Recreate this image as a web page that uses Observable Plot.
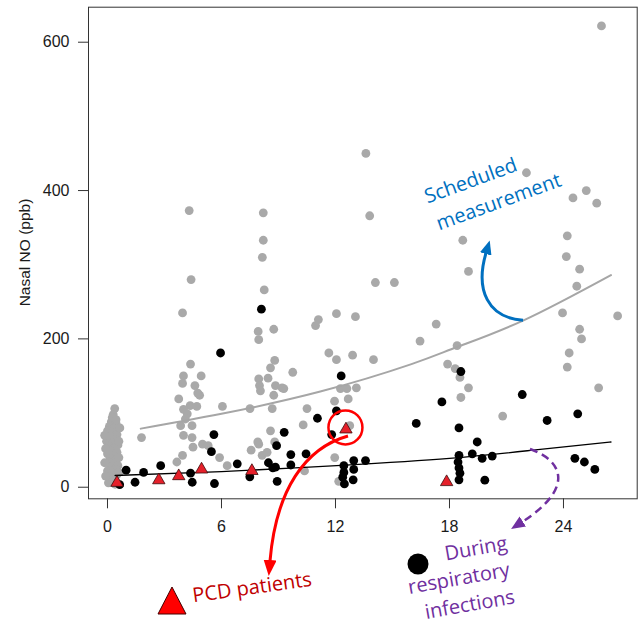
<!DOCTYPE html>
<html>
<head>
<meta charset="utf-8">
<script src="https://cdn.jsdelivr.net/npm/d3@7"></script>
<script src="https://cdn.jsdelivr.net/npm/@observablehq/plot@0.6"></script>
<style>
  body { margin: 0; background: #fff; }
  svg { display: block; }
</style>
</head>
<body>
<div id="chart"></div>
<script>
// Nasal NO (ppb) against age; each entry is [age, nasal NO]
const scheduled = [
  [26.0, 622], [13.6, 450], [13.8, 366], [4.3, 373], [8.2, 370], [8.2, 333], [8.15, 310],
  [22.05, 424], [24.5, 390], [25.2, 400], [25.75, 383], [18.7, 333], [24.2, 339], [24.15, 311],
  [14.1, 276], [15.1, 276], [19.0, 291], [24.85, 294], [24.7, 271], [12.05, 234], [13.05, 230],
  [11.1, 226], [10.95, 218], [17.3, 220], [16.45, 197], [18.4, 191], [23.95, 235], [26.85, 231],
  [24.85, 213], [24.95, 200], [24.3, 181], [24.2, 162],
  [4.4, 280], [8.25, 266], [3.95, 235], [7.93, 210], [8.75, 213], [7.96, 199], [4.37, 166],
  [4.0, 150], [4.93, 150], [8.8, 171], [8.58, 161], [8.45, 147], [7.96, 146], [9.75, 155],
  [11.65, 181], [12.05, 172], [12.9, 178], [14.0, 172], [17.9, 166], [18.3, 160], [18.55, 148],
  [19.0, 134], [18.6, 121], [20.8, 96], [25.85, 134],
  [3.95, 140], [4.6, 137], [3.75, 119], [4.85, 124], [4.35, 110], [4.7, 109], [4.2, 99],
  [3.85, 83], [4.45, 83], [4.0, 70], [4.45, 67], [4.5, 54], [5.0, 58], [5.3, 56], [3.95, 43],
  [3.65, 34], [4.1, 92], [4.0, 105], [4.75, 127],
  [6.05, 109], [7.5, 106], [8.67, 106], [8.58, 76], [7.96, 58], [8.14, 43], [6.3, 29], [5.9, 40],
  [8.4, 47], [7.56, 50], [7.91, 61], [8.8, 61], [8.0, 137], [8.05, 130], [8.84, 137], [9.19, 134],
  [8.75, 124], [10.3, 84], [10.5, 106], [10.37, 22], [9.28, 133], [12.26, 133], [12.6, 133],
  [13.1, 134], [11.95, 116], [12.67, 119], [12.75, 83], [11.96, 40], [12.17, 8], [1.79, 67],
  [0.38, 106], [0.3, 98], [0.2, 88], [0.45, 86], [0.1, 82], [0.35, 79], [0.0, 76], [0.25, 73],
  [0.5, 71], [0.15, 68], [0.4, 64], [-0.05, 62], [0.3, 60], [0.55, 57], [0.1, 55], [0.35, 52],
  [0.2, 49], [0.5, 47], [0.0, 45], [0.3, 42], [0.15, 39], [0.45, 37], [0.05, 34], [0.3, 31],
  [0.55, 29], [0.15, 27], [0.4, 24], [0.0, 22], [0.25, 19], [0.5, 17], [0.1, 14], [0.35, 12],
  [0.2, 9], [0.05, 6], [0.4, 4], [0.6, 40], [0.6, 62], [0.25, 94], [0.45, 91],
  [-0.15, 70], [-0.1, 52], [-0.15, 33], [-0.1, 15], [0.65, 80], [0.6, 20]
];

const infections = [
  [8.1, 240], [5.95, 181], [12.3, 150], [12.05, 103], [11.05, 93], [11.8, 71], [9.3, 74],
  [8.9, 56], [9.65, 44], [10.45, 45], [9.65, 30], [8.84, 27], [8.93, 8], [8.47, 33], [8.7, 26],
  [7.49, 14], [6.83, 31.5], [5.6, 71], [5.47, 48], [4.37, 19], [4.46, 6.7], [5.63, 5], [2.8, 29],
  [1.9, 20], [1.45, 6.7], [0.98, 23], [0.64, 3.5],
  [12.44, 29], [12.96, 36], [13.58, 36], [12.96, 24], [12.44, 20], [12.93, 10], [12.47, 4.5],
  [12.38, 13.5],
  [17.6, 115], [16.25, 86], [18.5, 80], [18.6, 156], [21.83, 125], [23.14, 90], [24.75, 99],
  [19.46, 61], [18.5, 43], [19.2, 45], [19.72, 39], [20.25, 42], [18.45, 34], [18.5, 26],
  [18.55, 19], [18.5, 10], [19.86, 9.5], [24.6, 39], [25.1, 34], [25.65, 24]
];

const pcd = [
  [0.5, 6], [2.7, 9.5], [3.75, 15], [4.95, 24], [7.6, 22], [12.55, 78], [17.85, 7]
];

// fitted trends
const scheduledFit = [[1.75, 79], [6, 99], [11.2, 129], [16, 166], [18.4, 189], [21.9, 225], [26.5, 286]];
const infectionFit = [[0.4, 15.8], [6, 21], [12.3, 29.5], [18, 39], [22.4, 50], [26.5, 61]];

const xTicks = [0, 6, 12, 18, 24];
const yTicks = [0, 200, 400, 600];

const axisFont = "'Liberation Sans', Arial, sans-serif";
const noteFont = "'Open Sans', 'Noto Sans', sans-serif";

const chart = Plot.plot({
  width: 644,
  height: 629,
  marginLeft: 88,
  marginRight: 7.3,
  marginTop: 6.7,
  marginBottom: 130.7,
  style: { fontFamily: axisFont, background: "white", color: "#1a1a1a" },
  x: { domain: [-1, 27.88] },
  y: { domain: [-15.6, 647.2] },
  marks: [
    Plot.axisX({ ticks: xTicks, tickSize: 10, tickPadding: 12, fontSize: 16, label: null, stroke: "#333" }),
    Plot.axisY({ ticks: yTicks, tickSize: 10, tickPadding: 9, fontSize: 16, label: null, stroke: "#333" }),
    Plot.dot(scheduled, { x: d => d[0], y: d => d[1], r: 4.4, fill: "#a9a9a9" }),
    Plot.line(scheduledFit, { x: d => d[0], y: d => d[1], stroke: "#a6a6a6", strokeWidth: 2, curve: "natural" }),
    Plot.dot(infections, { x: d => d[0], y: d => d[1], r: 4.4, fill: "black" }),
    Plot.line(infectionFit, { x: d => d[0], y: d => d[1], stroke: "black", strokeWidth: 1.3, curve: "natural" }),
    Plot.dot(pcd, { x: d => d[0], y: d => d[1], symbol: "triangle", r: 4.6, fill: "#e5202a", stroke: "#3b0b0b", strokeWidth: 0.8 }),
    Plot.frame({ stroke: "#333", strokeWidth: 1 })
  ]
});

document.getElementById("chart").appendChild(chart);

// annotations drawn on top of the plot
const sx = chart.scale("x").apply, sy = chart.scale("y").apply;
const svg = d3.select(chart);
const defs = svg.append("defs");
function head(id, color, len, wid) {
  defs.append("marker")
    .attr("id", id).attr("markerUnits", "userSpaceOnUse")
    .attr("markerWidth", len).attr("markerHeight", wid)
    .attr("refX", 1).attr("refY", wid / 2).attr("orient", "auto")
    .append("path").attr("d", `M0,0L${len},${wid / 2}L0,${wid}Z`).attr("fill", color);
}
head("hBlue", "#0070c0", 14, 12);
head("hRed", "#ff0000", 16, 13);
head("hPurple", "#7030a0", 14, 12);

const g = svg.append("g");

// y-axis title
g.append("text")
  .attr("transform", `translate(30,${(6.7 + 498.3) / 2}) rotate(-90)`)
  .attr("text-anchor", "middle").attr("font-family", axisFont).attr("font-size", 15.5)
  .attr("fill", "#1a1a1a").text("Nasal NO (ppb)");

// scheduled measurement callout
g.append("path")
  .attr("d", `M${sx(21.9)},${sy(224.5)} C488,318 475,290 486,253`)
  .attr("fill", "none").attr("stroke", "#0070c0").attr("stroke-width", 3)
  .attr("marker-end", "url(#hBlue)");
g.append("text").attr("transform", "translate(473,187) rotate(-20)")
  .attr("text-anchor", "middle").attr("font-family", noteFont).attr("font-size", 20)
  .attr("fill", "#0070c0").text("Scheduled");
g.append("text").attr("transform", "translate(501,208) rotate(-20)")
  .attr("text-anchor", "middle").attr("font-family", noteFont).attr("font-size", 20)
  .attr("fill", "#0070c0").text("measurement");

// PCD patients callout
const hl = pcd[5];
g.append("circle").attr("cx", sx(hl[0])).attr("cy", sy(hl[1]) - 1.5).attr("r", 17)
  .attr("fill", "none").attr("stroke", "#ff0000").attr("stroke-width", 2.5);
g.append("path")
  .attr("d", `M348,436 C305,448 276,490 270,561`)
  .attr("fill", "none").attr("stroke", "#ff0000").attr("stroke-width", 3)
  .attr("marker-end", "url(#hRed)");
g.append("path").attr("d", "M158,614L186,614L172,587Z")
  .attr("fill", "#ff0000").attr("stroke", "#400").attr("stroke-width", 1);
g.append("text").attr("transform", "translate(253,594) rotate(-8)")
  .attr("text-anchor", "middle").attr("font-family", noteFont).attr("font-size", 20)
  .attr("fill", "#c00000").text("PCD patients");

// respiratory infection callout
g.append("path")
  .attr("d", `M530,449 C566,462 572,490 522,522`)
  .attr("fill", "none").attr("stroke", "#7030a0").attr("stroke-width", 2.5)
  .attr("stroke-dasharray", "8,5")
  .attr("marker-end", "url(#hPurple)");
g.append("circle").attr("cx", 418).attr("cy", 564).attr("r", 10.5).attr("fill", "black");
[["During", 477, 555], ["respiratory", 460, 585], ["infections", 471, 611]].forEach(([t, x, y]) => {
  g.append("text").attr("transform", `translate(${x},${y}) rotate(-10)`)
    .attr("text-anchor", "middle").attr("font-family", noteFont).attr("font-size", 20)
    .attr("fill", "#7030a0").text(t);
});
</script>
</body>
</html>
